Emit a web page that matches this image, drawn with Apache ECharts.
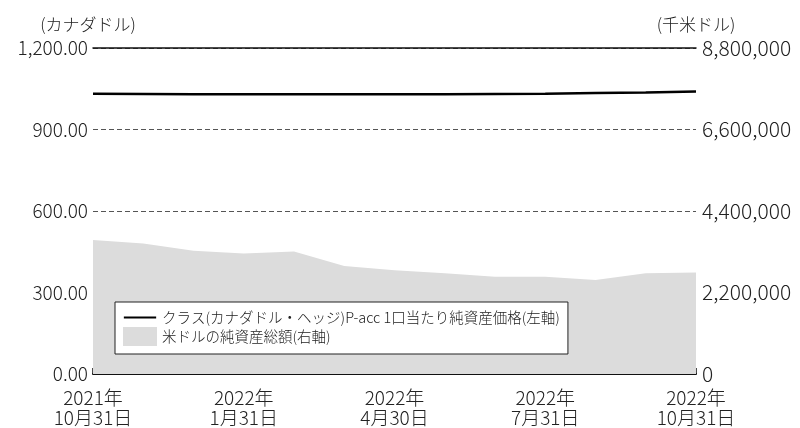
<!DOCTYPE html>
<html>
<head>
<meta charset="utf-8">
<script src="https://cdn.jsdelivr.net/npm/echarts@6/dist/echarts.min.js"></script>
<style>
  html, body { margin: 0; padding: 0; background: #fff; }
  #chart { width: 800px; height: 428px; }
</style>
</head>
<body>
<div id="chart"></div>
<script>
  // 月末基準 (2021/10 - 2022/10)
  const months = [
    '2021年\n10月31日', '2021年\n11月30日', '2021年\n12月31日',
    '2022年\n1月31日', '2022年\n2月28日', '2022年\n3月31日',
    '2022年\n4月30日', '2022年\n5月31日', '2022年\n6月30日',
    '2022年\n7月31日', '2022年\n8月31日', '2022年\n9月30日',
    '2022年\n10月31日'
  ]
  // 1口当たり純資産価格（カナダドル）
  const navPrice = [1032, 1031, 1030, 1030, 1029.5, 1029.5, 1029.5, 1030, 1031, 1032, 1034, 1036, 1039.5]
  // 純資産総額（千米ドル）
  const netAssets = [3614000, 3525000, 3329000, 3256000, 3310000, 2914000, 2799000, 2718000, 2624000, 2624000, 2538000, 2718000, 2737000]

  const leftTicks = { min: 0, max: 1200, interval: 300 }
  const rightTicks = { min: 0, max: 8800000, interval: 2200000 }

  const lineName = 'クラス(カナダドル・ヘッジ)P-acc 1口当たり純資産価格(左軸)'
  const areaName = '米ドルの純資産総額(右軸)'

  const font = "'Noto Sans CJK JP', 'Noto Sans', sans-serif"

  const chart = echarts.init(document.getElementById('chart'))
  const option = {
    animation: false,
    textStyle: { fontFamily: font, fontWeight: 300 },
    grid: { left: 93, right: 104, top: 48, bottom: 53 },
    legend: {
      orient: 'vertical',
      left: 115,
      top: 302,
      itemWidth: 34,
      itemHeight: 19,
      itemGap: 0,
      padding: [6, 8, 8, 8],
      borderColor: '#222',
      borderWidth: 1,
      backgroundColor: '#fff',
      textStyle: { fontSize: 14.5, color: '#222', fontWeight: 300 },
      data: [
        // 線だけのアイコン（上下の点は高さを揃えるため）
        { name: lineName, icon: 'path://M0,0L34,0Z M0,9L34,9L34,11L0,11Z M0,20L34,20Z' },
        { name: areaName, icon: 'rect' }
      ]
    },
    xAxis: [
      {
        type: 'category',
        boundaryGap: false,
        data: months,
        axisLine: { lineStyle: { color: '#111', width: 2 } },
        axisTick: { inside: true, length: 6, interval: 2, lineStyle: { color: '#111', width: 1.5 } },
        axisLabel: { interval: 2, fontSize: 19, lineHeight: 20, color: '#222', margin: 14 },
        splitLine: { show: false }
      },
      {
        type: 'category',
        position: 'top',
        boundaryGap: false,
        data: months,
        axisLine: { onZero: false, lineStyle: { color: '#111', width: 1.5 } },
        axisTick: { show: false },
        axisLabel: { show: false }
      }
    ],
    yAxis: [
      {
        type: 'value',
        min: leftTicks.min,
        max: leftTicks.max,
        interval: leftTicks.interval,
        name: '(カナダドル)',
        nameGap: 15,
        nameTextStyle: { fontSize: 17, color: '#222', align: 'center', padding: [0, 10, 0, 0] },
        axisLine: { show: false },
        axisTick: { show: false },
        axisLabel: {
          fontSize: 19, color: '#222', margin: 5,
          formatter: v => v.toLocaleString('en-US', { minimumFractionDigits: 2, maximumFractionDigits: 2 })
        },
        splitLine: { lineStyle: { color: '#555', type: [5, 3], width: 1 } }
      },
      {
        type: 'value',
        min: rightTicks.min,
        max: rightTicks.max,
        interval: rightTicks.interval,
        name: '(千米ドル)',
        nameGap: 15,
        nameTextStyle: { fontSize: 17, color: '#222', align: 'center' },
        axisLine: { show: false },
        axisTick: { show: false },
        axisLabel: {
          fontSize: 21, color: '#222', margin: 6,
          formatter: v => v.toLocaleString('en-US')
        },
        splitLine: { show: false }
      }
    ],
    series: [
      {
        name: areaName,
        type: 'line',
        yAxisIndex: 1,
        symbol: 'none',
        data: netAssets,
        lineStyle: { width: 0, color: '#dcdcdc' },
        itemStyle: { color: '#dcdcdc' },
        areaStyle: { color: '#dcdcdc', opacity: 1 },
        z: 1
      },
      {
        name: lineName,
        type: 'line',
        yAxisIndex: 0,
        symbol: 'none',
        data: navPrice,
        lineStyle: { width: 2.5, color: '#000' },
        itemStyle: { color: '#000' },
        z: 3
      }
    ]
  }
  chart.setOption(option)
</script>
</body>
</html>
